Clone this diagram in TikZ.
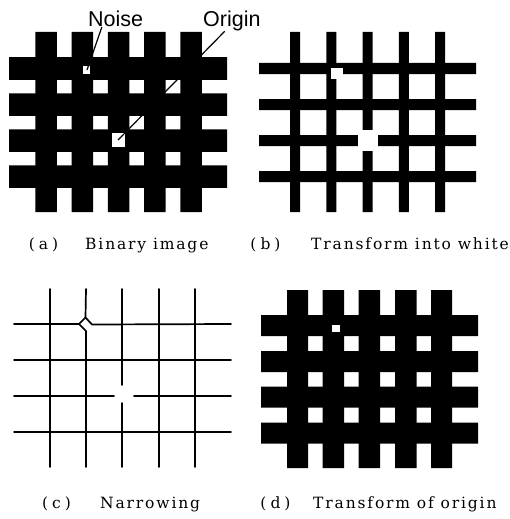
\documentclass[tikz,border=0pt]{standalone}
\usepackage{fontspec}
\newfontfamily\lblfont{Liberation Sans}
\newfontfamily\capfont{DejaVu Serif}[LetterSpace=12]
\usetikzlibrary{calc}

\tikzset{
  bar/.style={fill=black},
  hole/.style={fill=white},
  skel/.style={line width=1.7pt,line cap=round,line join=round},
  leader/.style={line width=1.2pt},
  lbl/.style={font=\lblfont\fontsize{21.5}{24}\selectfont,anchor=base west,inner sep=0pt},
  tag/.style={font=\capfont\fontsize{15.5}{18}\selectfont,anchor=base,inner sep=0pt},
  caption/.style={font=\capfont\fontsize{15.5}{18}\selectfont,anchor=base west,inner sep=0pt}
}

\begin{document}
\begin{tikzpicture}[x=1pt,y=-1pt]
\useasboundingbox (0,0) rectangle (510,519);

% (a) binary image
\fill[bar] (35.25,32) rectangle (56.75,212) (71.5,32) rectangle (93,212)
  (107.75,32) rectangle (129.25,212) (144,32) rectangle (165.5,212)
  (180.25,32) rectangle (201.75,212);
\fill[bar] (9,57.25) rectangle (227,79.75) (9,93.25) rectangle (227,115.75)
  (9,129.25) rectangle (227,151.75) (9,165.25) rectangle (227,187.75);
\fill[hole] (83,66) rectangle (90,74);
\fill[hole] (112,133) rectangle (125,147);
\coordinate (noisePt) at (87,70);
\coordinate (originPt) at (118,140);
\node[lbl] (noiseLbl) at (88,26.7) {Noise};
\node[lbl] (originLbl) at (203,26.7) {Origin};
\draw[leader] ($(noiseLbl.south west)!0.5!(noiseLbl.south)$) -- (noisePt);
\draw[leader] ($(originLbl.south)!0.25!(originLbl.south west)$) -- (originPt);

% (b) transform into white
\fill[bar] (290,32) rectangle (300,212) (326.25,32) rectangle (336.25,212)
  (362.5,32) rectangle (372.5,212) (398.75,32) rectangle (408.75,212)
  (435,32) rectangle (445,212);
\fill[bar] (259,63) rectangle (476,74) (259,99) rectangle (476,110)
  (259,135) rectangle (476,146) (259,171) rectangle (476,182);
\fill[hole] (330.5,68) rectangle (343,79);
\fill[hole] (357.5,130) rectangle (378,150.5);

% (c) narrowing
\draw[skel] (14,324) -- (79,324) -- (85.5,317.5) -- (92,324.5) -- (231,324);
\draw[skel] (86,289) -- (85.5,317.5);
\draw[skel] (79,324) -- (86,331) -- (86,467);
\draw[skel] (50,289) -- (50,467);
\draw[skel] (122,289) -- (122,385) (122,403) -- (122,467);
\draw[skel] (159,289) -- (159,467);
\draw[skel] (195,289) -- (195,467);
\draw[skel] (14,360) -- (231,360);
\draw[skel] (14,396) -- (114,396) (134,396) -- (231,396);
\draw[skel] (14,432) -- (231,432);

% (d) transform of origin
\fill[bar] (287,290) rectangle (308,468) (322.5,290) rectangle (344,468)
  (358.5,290) rectangle (380,468) (395,290) rectangle (416.5,468)
  (431,290) rectangle (452,468);
\fill[bar] (261,315) rectangle (478,336) (261,351) rectangle (478,372)
  (261,386.5) rectangle (478,407.5) (261,422.5) rectangle (478,443.5);
\fill[hole] (332,325) rectangle (340,332);

% captions
\node[tag] (tagA) at (43.5,249.7) {(\hspace{4pt}a\hspace{4pt})};
\node[caption] (capA) at (85,249.7) {Binary image};
\node[tag] (tagB) at (265.5,249.7) {(\hspace{4pt}b\hspace{4pt})};
\node[caption] (capB) at (311,249.7) {Transform into white};
\node[tag] (tagC) at (56.5,508.5) {(\hspace{4pt}c\hspace{4pt})};
\node[caption] (capC) at (100,508.5) {Narrowing};
\node[tag] (tagD) at (275.5,508.5) {(\hspace{4pt}d\hspace{4pt})};
\node[caption] (capD) at (313,508.5) {Transform of origin};
\end{tikzpicture}
\end{document}
